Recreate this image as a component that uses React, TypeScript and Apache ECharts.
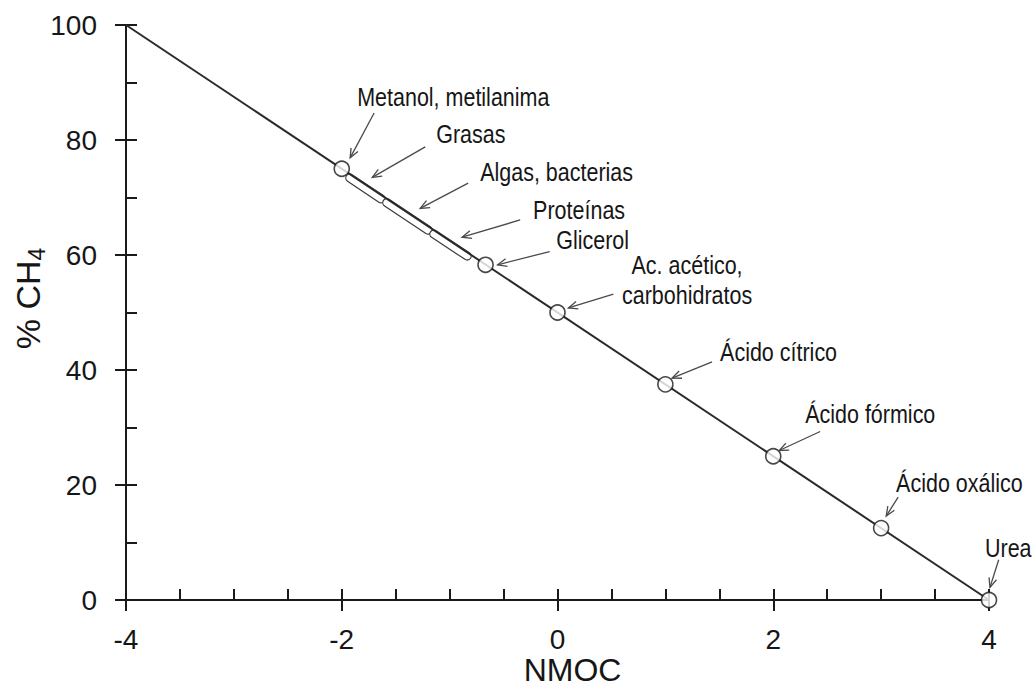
import React, { useEffect, useRef } from "react";
import * as echarts from "echarts";

// Axis ranges / ticks
const X_MIN = -4;
const X_MAX = 4;
const X_STEP = 2;
const Y_MIN = 0;
const Y_MAX = 100;
const Y_STEP = 20;

// Theoretical line
const lineNmoc = [-4, 4];
const lineCh4 = [100, 0];

// Circles (compounds)
const pointNmoc = [-2, -0.667, 0, 1, 2, 3, 4];
const pointCh4 = [75, 58.3, 50, 37.5, 25, 12.5, 0];

// Range capsules (Grasas, Algas/bacterias, Proteínas)
const rangeNames = ["Grasas", "Algas, bacterias", "Proteínas"];
const rangeFromNmoc = [-1.94, -1.597, -1.161];
const rangeFromCh4 = [74.25, 69.96, 64.5];
const rangeToNmoc = [-1.588, -1.152, -0.79];
const rangeToCh4 = [69.85, 64.4, 59.9];

// Annotations
const annoLabels = [
  "Metanol, metilanima",
  "Grasas",
  "Algas, bacterias",
  "Proteínas",
  "Glicerol",
  "Ac. acético,\ncarbohidratos",
  "Ácido cítrico",
  "Ácido fórmico",
  "Ácido oxálico",
  "Urea",
];
const annoAlign = ["left", "left", "left", "left", "left", "center", "left", "left", "left", "left"];
const annoTextX = [-1.857, -1.124, -0.717, -0.226, -0.012, 1.201, 1.507, 2.296, 3.139, 3.963];
const annoTextY = [87.4, 80.9, 74.4, 67.7, 62.6, 55.5, 43.1, 32.2, 20.2, 8.9];
const arrowFromX = [-1.70, -1.226, -0.828, -0.346, -0.072, 0.518, 1.433, 2.435, 3.158, 4.09];
const arrowFromY = [84.7, 78.8, 72.5, 66.1, 60.6, 53.2, 41.4, 29.3, 17.9, 7.0];
const arrowToX = [-1.922, -1.717, -1.273, -0.884, -0.555, 0.101, 1.062, 2.055, 3.047, 4.009];
const arrowToY = [76.9, 73.5, 68.1, 63.1, 58.3, 50.8, 38.6, 26.0, 14.6, 2.2];

const FONT = "'Liberation Sans', Arial, sans-serif";
const TEXT = "#161616";
const AXIS = "#1a1a1a";

export default function App() {
  const ref = useRef<HTMLDivElement>(null);
  useEffect(() => {
    if (!ref.current) return;
    const chart = echarts.init(ref.current, null, { renderer: "svg" });

    const rangeData = rangeNames.map((_, i) => [rangeFromNmoc[i], rangeFromCh4[i], rangeToNmoc[i], rangeToCh4[i]]);
    const annoData = annoLabels.map((_, i) => [
      annoTextX[i], annoTextY[i], arrowFromX[i], arrowFromY[i], arrowToX[i], arrowToY[i],
    ]);

    const option: any = {
      animation: false,
      backgroundColor: "#fff",
      grid: { left: 126, right: 45, top: 25, bottom: 90, containLabel: false, outerBoundsMode: "none" },
      xAxis: [
        {
          type: "value",
          min: X_MIN,
          max: X_MAX,
          interval: X_STEP,
          name: "NMOC",
          nameLocation: "middle",
          nameGap: 54,
          nameMoveOverlap: false,
          nameTextStyle: { fontFamily: FONT, fontSize: 32, color: TEXT, padding: [0, 0, 0, 30] },
          axisLine: { show: true, onZero: false, lineStyle: { color: AXIS, width: 2 } },
          axisTick: { show: true, inside: true, length: 11, lineStyle: { color: AXIS, width: 2 } },
          minorTick: { show: true, splitNumber: 4, length: 11, lineStyle: { color: AXIS, width: 2 } },
          axisLabel: { fontFamily: FONT, fontSize: 28, color: TEXT, margin: 25 },
          splitLine: { show: false },
        },
        {
          type: "value",
          min: X_MIN,
          max: X_MAX,
          interval: X_STEP,
          position: "bottom",
          axisLine: { show: false, onZero: false },
          axisTick: { show: true, inside: false, length: 11, lineStyle: { color: AXIS, width: 2 } },
          axisLabel: { show: false },
          splitLine: { show: false },
        },
      ],
      yAxis: [
        {
          type: "value",
          min: Y_MIN,
          max: Y_MAX,
          interval: Y_STEP,
          name: "{a|% CH}{b|4}",
          nameLocation: "middle",
          nameRotate: 90,
          nameGap: 78,
          nameMoveOverlap: false,
          nameTextStyle: {
            color: TEXT,
            padding: [0, 0, 0, 28],
            rich: {
              a: { fontFamily: FONT, fontSize: 34, color: TEXT },
              b: { fontFamily: FONT, fontSize: 23, color: TEXT, padding: [18, 0, 0, 0] },
            },
          },
          axisLine: { show: true, onZero: false, lineStyle: { color: AXIS, width: 2 } },
          axisTick: { show: true, inside: true, length: 11, lineStyle: { color: AXIS, width: 2 } },
          minorTick: { show: true, splitNumber: 2, length: 11, lineStyle: { color: AXIS, width: 2 } },
          axisLabel: { fontFamily: FONT, fontSize: 28, color: TEXT, margin: 29 },
          splitLine: { show: false },
        },
        {
          type: "value",
          min: Y_MIN,
          max: Y_MAX,
          interval: Y_STEP,
          position: "left",
          axisLine: { show: false, onZero: false },
          axisTick: { show: true, inside: false, length: 11, lineStyle: { color: AXIS, width: 2 } },
          axisLabel: { show: false },
          splitLine: { show: false },
        },
      ],
      series: [
        {
          type: "custom",
          name: "ranges",
          xAxisIndex: 0,
          yAxisIndex: 0,
          z: 2,
          data: rangeData,
          encode: { x: [0, 2], y: [1, 3] },
          renderItem: (params: any, api: any) => {
            const p0 = api.coord([api.value(0), api.value(1)]);
            const p1 = api.coord([api.value(2), api.value(3)]);
            const dx = p1[0] - p0[0];
            const dy = p1[1] - p0[1];
            const len = Math.sqrt(dx * dx + dy * dy);
            const ux = dx / len;
            const uy = dy / len;
            const off = 3.2;
            const cx = (p0[0] + p1[0]) / 2 - uy * off;
            const cy = (p0[1] + p1[1]) / 2 + ux * off;
            const angle = Math.atan2(dy, dx);
            return {
              type: "rect",
              x: cx,
              y: cy,
              rotation: -angle,
              shape: { x: -len / 2, y: -4, width: len, height: 8, r: 4 },
              style: { fill: "#fff", stroke: "#3a3a3a", lineWidth: 1.2 },
            };
          },
        },
        {
          type: "line",
          name: "line",
          xAxisIndex: 0,
          yAxisIndex: 0,
          z: 3,
          data: lineNmoc.map((x, i) => [x, lineCh4[i]]),
          symbol: "none",
          lineStyle: { color: "#2a2a2a", width: 2 },
        },
        {
          type: "scatter",
          name: "points",
          xAxisIndex: 0,
          yAxisIndex: 0,
          z: 4,
          data: pointNmoc.map((x, i) => [x, pointCh4[i]]),
          symbol: "circle",
          symbolSize: 15,
          itemStyle: { color: "#fff", borderColor: AXIS, borderWidth: 1.6 },
        },
        {
          type: "custom",
          name: "annotations",
          xAxisIndex: 0,
          yAxisIndex: 0,
          z: 5,
          clip: false,
          data: annoData,
          encode: { x: [0, 2, 4], y: [1, 3, 5] },
          renderItem: (params: any, api: any) => {
            const i = params.dataIndex;
            const t = api.coord([api.value(0), api.value(1)]);
            const a0 = api.coord([api.value(2), api.value(3)]);
            const a1 = api.coord([api.value(4), api.value(5)]);
            const dx = a1[0] - a0[0];
            const dy = a1[1] - a0[1];
            const len = Math.sqrt(dx * dx + dy * dy);
            const ux = dx / len;
            const uy = dy / len;
            const hl = 10;
            const ha = 0.4;
            const c = Math.cos(ha);
            const s = Math.sin(ha);
            const h1 = [a1[0] - hl * (ux * c - uy * s), a1[1] - hl * (uy * c + ux * s)];
            const h2 = [a1[0] - hl * (ux * c + uy * s), a1[1] - hl * (uy * c - ux * s)];
            const arrowStyle = { stroke: "#4a4a4a", lineWidth: 1.3, fill: "none" };
            return {
              type: "group",
              children: [
                {
                  type: "line",
                  shape: { x1: a0[0], y1: a0[1], x2: a1[0], y2: a1[1] },
                  style: arrowStyle,
                },
                {
                  type: "polyline",
                  shape: { points: [h1, a1, h2] },
                  style: arrowStyle,
                },
                {
                  type: "text",
                  x: t[0],
                  y: t[1],
                  scaleX: 0.86,
                  style: {
                    text: annoLabels[i],
                    fontFamily: FONT,
                    fontSize: 25,
                    lineHeight: 30,
                    fill: TEXT,
                    align: annoAlign[i],
                    verticalAlign: "middle",
                  },
                },
              ],
            };
          },
        },
      ],
    };
    chart.setOption(option);
    return () => chart.dispose();
  }, []);
  return <div ref={ref} style={{ width: 1034, height: 690, position: "absolute", left: 0, top: 0 }} />;
}
